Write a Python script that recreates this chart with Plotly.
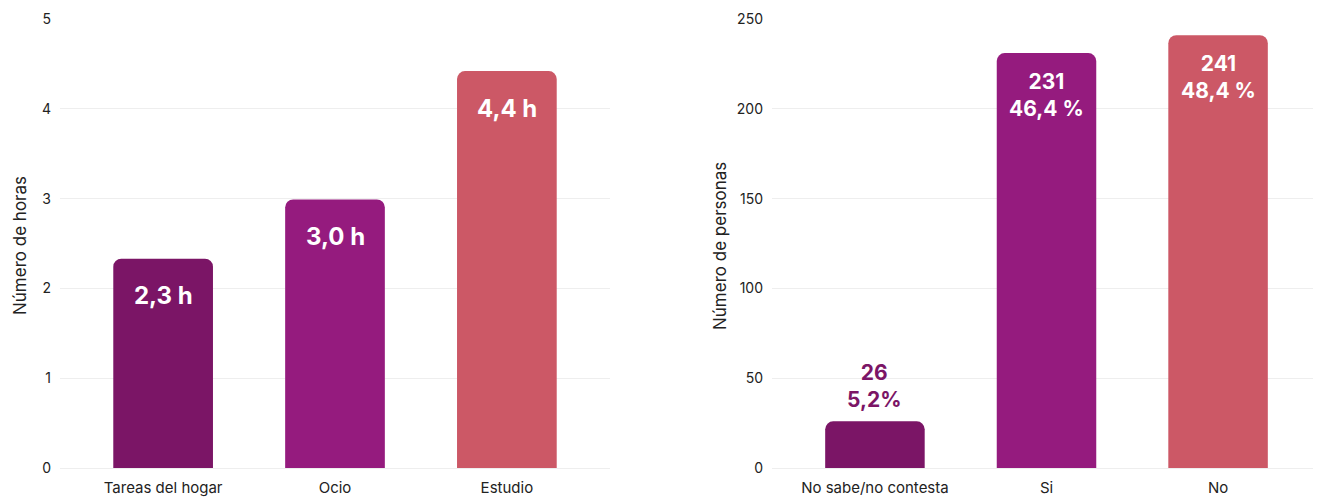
import plotly.graph_objects as go
from plotly.subplots import make_subplots

# Left chart data
cats_left = ["Tareas del hogar", "Ocio", "Estudio"]
hours = [2.33, 2.99, 4.42]
labels_left = ["2,3 h", "3,0 h", "4,4 h"]

# Right chart data
cats_right = ["No sabe/no contesta", "Si", "No"]
people = [26, 231, 241]
pct_labels = ["5,2%", "46,4 %", "48,4 %"]

colors = ["#7B1566", "#951B7E", "#CC5866"]
FONT = "Inter"
TXT = "#222222"

fig = make_subplots(rows=1, cols=2)

fig.add_trace(go.Bar(x=cats_left, y=hours, marker=dict(color=colors, line=dict(width=0)),
                     width=0.58, showlegend=False, hoverinfo="skip"), row=1, col=1)
fig.add_trace(go.Bar(x=cats_right, y=people, marker=dict(color=colors, line=dict(width=0)),
                     width=0.58, showlegend=False, hoverinfo="skip"), row=1, col=2)

# in-bar labels (left)
for c, v, t in zip(cats_left, hours, labels_left):
    fig.add_annotation(x=c, y=v, xref="x", yref="y", text=f"<b>{t}</b>", showarrow=False,
                       yanchor="middle", yshift=-37,
                       font=dict(family=FONT, size=24, color="white"))

# right labels
for i, (c, v, p) in enumerate(zip(cats_right, people, pct_labels)):
    if i == 0:
        fig.add_annotation(x=c, y=v, xref="x2", yref="y2", text=f"<b>{v}<br>{p}</b>", showarrow=False,
                           yanchor="middle", yshift=35,
                           font=dict(family=FONT, size=21, color=colors[0]))
    else:
        fig.add_annotation(x=c, y=v, xref="x2", yref="y2", text=f"<b>{v}<br>{p}</b>", showarrow=False,
                           yanchor="middle", yshift=-42,
                           font=dict(family=FONT, size=21, color="white"))

# page body offset of 8px
OFF = 8
W, H = 1321 - OFF, 497 - OFF
ydom = [(H - (468 - OFF)) / H, (H - (19 - OFF)) / H]
fig.update_layout(
    width=W, height=H,
    margin=dict(l=0, r=0, t=0, b=0),
    paper_bgcolor="white", plot_bgcolor="white",
    barcornerradius=8,
    font=dict(family=FONT, size=14, color=TXT),
    xaxis=dict(domain=[(60 - OFF) / W, (610 - OFF) / W], range=[-0.6, 2.6], automargin=False,
               showgrid=False, showline=False, ticks="", ticklabelstandoff=9,
               tickfont=dict(size=15, color=TXT)),
    xaxis2=dict(domain=[(772 - OFF) / W, 1.0], range=[-0.6, 2.6], automargin=False,
                showgrid=False, showline=False, ticks="", ticklabelstandoff=9,
                tickfont=dict(size=15, color=TXT)),
    yaxis=dict(domain=ydom, range=[0, 5], dtick=1, automargin=False,
               showgrid=True, gridcolor="#EEEEEE", gridwidth=1,
               zeroline=True, zerolinecolor="#EEEEEE", zerolinewidth=1,
               ticklabelstandoff=8, tickfont=dict(size=14, color=TXT)),
    yaxis2=dict(domain=ydom, range=[0, 250], dtick=50, automargin=False,
                showgrid=True, gridcolor="#EEEEEE", gridwidth=1,
                zeroline=True, zerolinecolor="#EEEEEE", zerolinewidth=1,
                ticklabelstandoff=8, tickfont=dict(size=14, color=TXT)),
)

fig.add_annotation(x=0, y=(H - (246 - OFF)) / H, xref="paper", yref="paper",
                   text="Número de horas", textangle=-90, showarrow=False,
                   font=dict(family=FONT, size=17, color=TXT), xanchor="left", yanchor="middle")
fig.add_annotation(x=(720 - OFF) / W, y=(H - (246 - OFF)) / H, xref="paper", yref="paper",
                   text="Número de personas", textangle=-90, showarrow=False,
                   font=dict(family=FONT, size=17, color=TXT), xanchor="center", yanchor="middle")

fig.write_html("out.html")
